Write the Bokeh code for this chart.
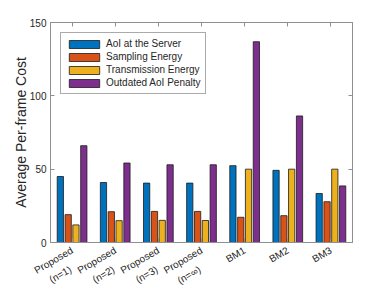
import math
from bokeh.plotting import figure
from bokeh.models import FixedTicker, LinearAxis, Range1d, Legend, LegendItem
from bokeh.embed import file_html
from bokeh.resources import INLINE

scheme_line1 = ["Proposed", "Proposed", "Proposed", "Proposed", "BM1", "BM2", "BM3"]
scheme_line2 = ["(n=1)", "(n=2)", "(n=3)", "(n=\u221e)", "", "", ""]
aoi_server = [45.0, 40.9, 40.5, 40.5, 52.4, 49.2, 33.4]
sampling_energy = [19.0, 21.0, 21.2, 21.2, 17.2, 18.3, 27.8]
transmission_energy = [12.0, 14.9, 15.1, 15.0, 50.0, 50.0, 50.0]
outdated_penalty = [66.0, 54.2, 53.0, 53.0, 136.9, 86.3, 38.6]
y_ticks = [0, 50, 100, 150]

series = [
    ("AoI at the Server", aoi_server, "#0072BD"),
    ("Sampling Energy", sampling_energy, "#D95319"),
    ("Transmission Energy", transmission_energy, "#EDB120"),
    ("Outdated AoI Penalty", outdated_penalty, "#7E2F8E"),
]
offsets = [-0.272, -0.09, 0.09, 0.272]
bar_w = 0.145

AX = "#8f8f8f"
TXT = "#262626"
FONT = "Liberation Sans"
ANG = math.radians(30)

p = figure(width=382, height=293, output_backend="svg", toolbar_location=None,
           x_range=Range1d(0.5, 7.5), y_range=Range1d(0, 150),
           min_border_left=50, min_border_right=30, min_border_top=22, min_border_bottom=50)
p.grid.visible = False
p.outline_line_color = AX
p.background_fill_color = "white"

items = []
xs = list(range(1, len(scheme_line1) + 1))
for (name, vals, col), off in zip(series, offsets):
    r = p.vbar(x=[x + off for x in xs], top=vals, width=bar_w, bottom=0,
               fill_color=col, line_color="#1a1a1a", line_width=0.8)
    items.append(LegendItem(label=name, renderers=[r]))

legend = Legend(items=items, location="top_left", margin=10, padding=4, spacing=0,
                label_height=13, glyph_height=10, glyph_width=38, label_standoff=3,
                label_text_font_size="10px", label_text_font=FONT, label_text_color=TXT,
                border_line_color="#555555", border_line_width=1, background_fill_alpha=1)
p.add_layout(legend)

# main bottom axis: ticks + first label line
xa = p.xaxis[0]
xa.ticker = FixedTicker(ticks=xs)
xa.major_label_overrides = {x: t for x, t in zip(xs, scheme_line1)}
xa.major_label_orientation = ANG
xa.major_label_standoff = 7
xa.major_label_text_font_size = "10px"
xa.major_label_text_font = FONT
xa.major_label_text_color = TXT
xa.minor_tick_line_color = None
xa.major_tick_in = 4
xa.major_tick_out = 0
xa.axis_line_color = AX
xa.major_tick_line_color = AX

# second bottom axis: second label line only
l2_ticks = [x - 0.035 for x, t in zip(xs, scheme_line2) if t]
l2_text = [t for t in scheme_line2 if t]
xa2 = LinearAxis(ticker=FixedTicker(ticks=l2_ticks),
                 major_label_overrides={k: t for k, t in zip(l2_ticks, l2_text)},
                 major_label_orientation=ANG, major_label_standoff=-15,
                 major_label_text_font_size="10px", major_label_text_font=FONT,
                 major_label_text_color=TXT, major_tick_line_color=None,
                 minor_tick_line_color=None, axis_line_color=None,
                 major_tick_in=0, major_tick_out=0)
p.add_layout(xa2, "below")

ya = p.yaxis[0]
ya.ticker = FixedTicker(ticks=y_ticks)
ya.axis_label = "Average Per-frame Cost"
ya.axis_label_text_font_size = "14px"
ya.axis_label_text_font = FONT
ya.axis_label_text_font_style = "normal"
ya.axis_label_text_color = TXT
ya.axis_label_standoff = -2
ya.major_label_text_font_size = "10px"
ya.major_label_text_font = FONT
ya.major_label_text_color = TXT
ya.minor_tick_line_color = None
ya.major_tick_in = 4
ya.major_tick_out = 0
ya.axis_line_color = AX
ya.major_tick_line_color = AX
ya.major_label_standoff = 4

top = LinearAxis(ticker=FixedTicker(ticks=xs), major_label_overrides={x: "" for x in xs},
                 major_tick_in=4, major_tick_out=0, minor_tick_line_color=None,
                 axis_line_color=AX, major_tick_line_color=AX, major_label_standoff=0)
p.add_layout(top, "above")
right = LinearAxis(ticker=FixedTicker(ticks=y_ticks), major_label_overrides={t: "" for t in y_ticks},
                   major_tick_in=4, major_tick_out=0, minor_tick_line_color=None,
                   axis_line_color=AX, major_tick_line_color=AX, major_label_standoff=0)
p.add_layout(right, "right")

open("out.html", "w").write(file_html(p, INLINE))
